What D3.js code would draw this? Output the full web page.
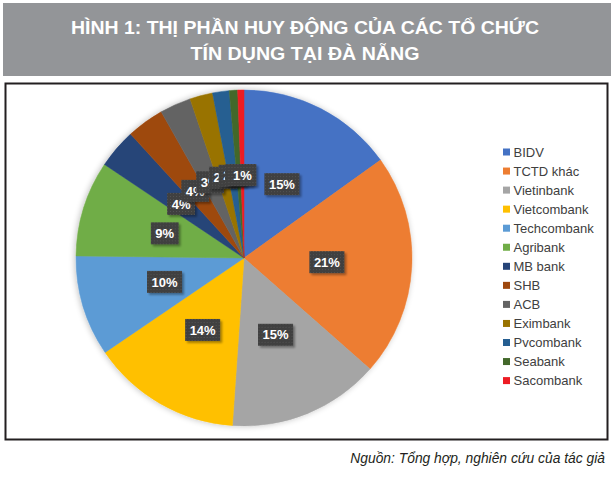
<!DOCTYPE html>
<html>
<head>
<meta charset="utf-8">
<script src="https://cdn.jsdelivr.net/npm/d3@7"></script>
<style>
  body { margin: 0; background: #fff; }
  svg { display: block; }
</style>
</head>
<body>
<svg id="fig" width="611" height="482"></svg>
<script>
// data (share of deposits, %)
const banks = ["BIDV", "TCTD khác", "Vietinbank", "Vietcombank", "Techcombank", "Agribank",
  "MB bank", "SHB", "ACB", "Eximbank", "Pvcombank", "Seabank", "Sacombank"];
const shares = [15.1, 21.4, 14.6, 14.4, 9.7, 9.2, 3.8, 3.6, 3.0, 2.2, 1.6, 0.8, 0.6];
const colors = ["#4472C4", "#ED7D31", "#A5A5A5", "#FFC000", "#5B9BD5", "#70AD47",
  "#264478", "#9E480E", "#636363", "#997300", "#255E91", "#43682B", "#ED1C24"];
const titleLines = ["HÌNH 1: THỊ PHẦN HUY ĐỘNG CỦA CÁC TỔ CHỨC", "TÍN DỤNG TẠI ĐÀ NẴNG"];
const titleWidths = [468, 229];
const source = "Nguồn: Tổng hợp, nghiên cứu của tác giả";

const data = banks.map((b, i) => ({ name: b, value: shares[i], color: colors[i] }));

const svg = d3.select("#fig");
const defs = svg.append("defs");

// soft shadow round the pie
const pieShadow = defs.append("filter").attr("id", "pieShadow")
  .attr("x", "-10%").attr("y", "-10%").attr("width", "120%").attr("height", "120%");
pieShadow.append("feGaussianBlur").attr("in", "SourceAlpha").attr("stdDeviation", 3);
pieShadow.append("feOffset").attr("dx", -1).attr("dy", 0).attr("result", "b");
pieShadow.append("feComponentTransfer").append("feFuncA").attr("type", "linear").attr("slope", 0.25);
const m1 = pieShadow.append("feMerge");
m1.append("feMergeNode");
m1.append("feMergeNode").attr("in", "SourceGraphic");

// shadow for label boxes
const boxShadow = defs.append("filter").attr("id", "boxShadow")
  .attr("x", "-20%").attr("y", "-20%").attr("width", "150%").attr("height", "160%");
boxShadow.append("feGaussianBlur").attr("in", "SourceAlpha").attr("stdDeviation", 1);
boxShadow.append("feOffset").attr("dx", 2).attr("dy", 2);
boxShadow.append("feComponentTransfer").append("feFuncA").attr("type", "linear").attr("slope", 0.35);
const m2 = boxShadow.append("feMerge");
m2.append("feMergeNode");
m2.append("feMergeNode").attr("in", "SourceGraphic");

// dotted texture of the label boxes
const pat = defs.append("pattern").attr("id", "dots")
  .attr("width", 3).attr("height", 3).attr("patternUnits", "userSpaceOnUse");
pat.append("rect").attr("width", 3).attr("height", 3).attr("fill", "#3f3f3f");
pat.append("rect").attr("x", 1).attr("y", 1).attr("width", 1).attr("height", 1).attr("fill", "#555");

// Title banner
svg.append("rect")
  .attr("x", 3).attr("y", 3).attr("width", 608).attr("height", 73)
  .attr("fill", "#939598");

svg.append("g").selectAll("text")
  .data(titleLines)
  .join("text")
  .attr("x", 305)
  .attr("y", (d, i) => 33.5 + i * 26.5)
  .attr("text-anchor", "middle")
  .attr("fill", "#fff")
  .attr("font-family", "'Liberation Sans', Arial, sans-serif")
  .attr("font-weight", "bold")
  .attr("font-size", 18.5)
  .attr("textLength", (d, i) => titleWidths[i])
  .attr("lengthAdjust", "spacingAndGlyphs")
  .text(d => d);

// Chart frame
svg.append("rect")
  .attr("x", 5.5).attr("y", 83.5).attr("width", 602).attr("height", 356)
  .attr("fill", "#fff")
  .attr("stroke", "#231F20")
  .attr("stroke-width", 2);

// Pie
const cx = 244, cy = 258, R = 168, labelR = 83;
const pie = d3.pie().value(d => d.value).sort(null);
const arc = d3.arc().innerRadius(0).outerRadius(R);
const labelArc = d3.arc().innerRadius(labelR).outerRadius(labelR);
const arcs = pie(data);

const pieG = svg.append("g").attr("transform", `translate(${cx},${cy})`);

pieG.append("g").attr("filter", "url(#pieShadow)")
  .selectAll("path")
  .data(arcs)
  .join("path")
  .attr("d", arc)
  .attr("fill", d => d.data.color)
  .attr("stroke", d => d.data.color)
  .attr("stroke-width", 0.5);

// Data labels (drawn in order, later ones cover earlier ones like in the original)
const labels = pieG.selectAll(".lbl")
  .data(arcs)
  .join("g")
  .attr("class", "lbl")
  .attr("transform", d => `translate(${labelArc.centroid(d)})`);

labels.each(function (d) {
  const g = d3.select(this);
  const txt = Math.round(d.data.value) + "%";
  const t = g.append("text")
    .attr("text-anchor", "middle")
    .attr("dy", "0.36em")
    .attr("fill", "#fff")
    .attr("font-family", "'Liberation Sans', Arial, sans-serif")
    .attr("font-weight", "bold")
    .attr("font-size", 13)
    .text(txt);
  const w = t.node().getComputedTextLength() + 9;
  g.insert("rect", "text")
    .attr("x", -w / 2).attr("y", -11)
    .attr("width", w).attr("height", 22)
    .attr("fill", "url(#dots)")
    .attr("filter", "url(#boxShadow)");
});

// Legend
const legend = svg.append("g").attr("transform", "translate(503,152)");
const items = legend.selectAll("g")
  .data(data)
  .join("g")
  .attr("transform", (d, i) => `translate(0,${i * 19.05})`);

items.append("rect")
  .attr("x", 0).attr("y", -3.5)
  .attr("width", 7).attr("height", 7)
  .attr("fill", d => d.color);

items.append("text")
  .attr("x", 10.5)
  .attr("dy", "0.36em")
  .attr("fill", "#404040")
  .attr("font-family", "'Liberation Sans', Arial, sans-serif")
  .attr("font-size", 13)
  .text(d => d.name);

// Source note: shrink the font until it fits the width of the original
const src = svg.append("text")
  .attr("x", 605).attr("y", 463)
  .attr("text-anchor", "end")
  .attr("fill", "#231F20")
  .attr("font-family", "'Liberation Sans', Arial, sans-serif")
  .attr("font-style", "italic")
  .attr("font-size", 17)
  .text(source);
const srcW = src.node().getComputedTextLength();
src.attr("font-size", Math.min(17, 17 * 255 / srcW));
</script>
</body>
</html>
